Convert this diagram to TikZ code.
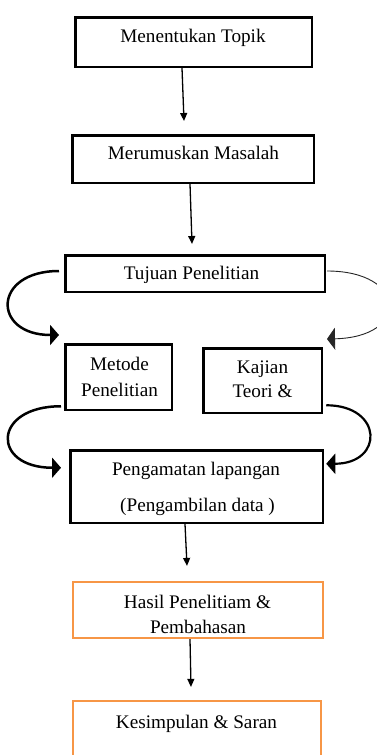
\documentclass[tikz,border=0pt]{standalone}
\usepackage{fontspec}
\setmainfont{Liberation Serif}
\usetikzlibrary{arrows.meta}
\definecolor{boxorange}{RGB}{247,150,70}
\tikzset{
  stepbox/.style={draw=black, line width=2.5pt, inner sep=0pt, rectangle},
  endbox/.style={draw=boxorange, line width=2.2pt, inner sep=0pt, rectangle},
  lbl/.style={anchor=base, inner sep=0pt, font=\fontsize{19.2}{25}\selectfont},
  flow/.style={line width=1.3pt, -{Triangle[length=8pt,width=7pt]}},
  loopline/.style={line width=2.5pt, -{Triangle[length=9pt,width=20pt]}},
  loopthin/.style={line width=0.9pt, draw=black!85, -{Triangle[length=8pt,width=22pt]}},
}
\begin{document}
\begin{tikzpicture}[x=1pt, y=-1pt]
\clip (0,0) rectangle (377,755);
\fill[white] (0,0) rectangle (377,755);

% boxes
\node[stepbox, minimum width=236.5pt, minimum height=49.5pt] (topik) at (193.5,42) {};
\node[stepbox, minimum width=241.5pt, minimum height=47.5pt] (masalah) at (193,159) {};
\node[stepbox, minimum width=259.5pt, minimum height=36.5pt] (tujuan) at (195,273.5) {};
\node[stepbox, minimum width=106.5pt, minimum height=65.5pt] (metode) at (118.5,377) {};
\node[stepbox, minimum width=118.5pt, minimum height=64.5pt] (kajian) at (262.5,380.5) {};
\node[stepbox, minimum width=252.5pt, minimum height=72.5pt] (lapangan) at (196.5,486.5) {};
\node[endbox, minimum width=250pt, minimum height=56pt] (hasil) at (198,610) {};
\node[endbox, minimum width=248pt, minimum height=70pt] (simpul) at (197,736) {};

% texts
\node[lbl] (t1) at (193,42) {Menentukan Topik};
\node[lbl] (t2) at (193.5,159.3) {Merumuskan Masalah};
\node[lbl] (t3) at (191.5,279) {Tujuan Penelitian};
\node[lbl] (t4a) at (119.5,370.7) {Metode};
\node[lbl] (t4b) at (119.5,396.7) {Penelitian};
\node[lbl] (t5a) at (262.5,373.3) {Kajian};
\node[lbl] (t5b) at (262.5,397) {Teori \&};
\node[lbl] (t6a) at (196,475) {Pengamatan lapangan};
\node[lbl] (t6b) at (197.5,511) {(Pengambilan data )};
\node[lbl] (t7a) at (197.5,608.3) {Hasil Penelitiam \&};
\node[lbl] (t7b) at (198,633.3) {Pembahasan};
\node[lbl] (t8) at (196.5,728.3) {Kesimpulan \& Saran};

% straight connectors
\draw[flow] ([xshift=-11.5pt]topik.south) -- ([xshift=-9pt,yshift=13pt]masalah.north);
\draw[flow] ([xshift=-3pt]masalah.south) -- ([xshift=-3pt,yshift=10pt]tujuan.north);
\draw[flow] ([xshift=-11.5pt]lapangan.south) -- ([xshift=-11pt,yshift=15pt]hasil.north);
\draw[flow] ([xshift=-8pt]hasil.south) -- ([xshift=-6pt,yshift=13pt]simpul.north);

% curved connectors
\draw[loopline] ([xshift=-5pt,yshift=2.5pt]tujuan.west)
  .. controls +(-67,0) and +(-67,0) .. ([xshift=-5pt,yshift=8pt]metode.north west);
\draw[loopthin] ([xshift=1pt,yshift=2.5pt]tujuan.east)
  .. controls +(80,0) and +(84,-2) .. ([xshift=4pt,yshift=8pt]kajian.north east);
\draw[loopline] ([xshift=-3pt,yshift=4.75pt]metode.south west)
  .. controls +(-69,0) and +(-70,0) .. ([xshift=-8pt,yshift=-18.75pt]lapangan.north west);
\draw[loopline, line width=2.2pt] ([xshift=3.25pt,yshift=8.75pt]kajian.south east)
  .. controls +(57,0) and +(58,0) .. ([xshift=2.25pt,yshift=-14.75pt]lapangan.north east);
\end{tikzpicture}
\end{document}
